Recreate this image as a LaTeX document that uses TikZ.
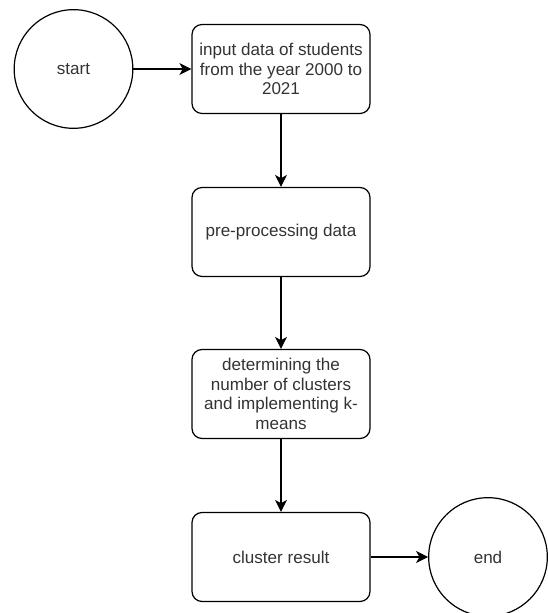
\documentclass[tikz,border=0pt]{standalone}
\usepackage{fontspec}
\setmainfont{Liberation Sans}
\usetikzlibrary{arrows.meta}

\begin{document}
\begin{tikzpicture}[
  x=0.75pt, y=0.75pt,
  step box/.style={draw, line width=0.9pt, rounded corners=7.5pt,
                minimum width=133.5pt, minimum height=66.75pt, inner sep=1pt,
                align=center, font=\fontsize{12.8}{14.6}\selectfont, text=black!80},
  term/.style ={draw, line width=0.9pt, circle, minimum size=89pt, inner sep=0pt,
                font=\fontsize{12.8}{14.6}\selectfont, text=black!80},
  flow/.style ={-{Stealth[length=9pt, width=9pt, inset=2.5pt]}, line width=0.9pt},
]
\useasboundingbox (0,0) rectangle (547,613);

% terminals
\node[term] (start)  at (73.5,544) {start};
\node[term] (finish) at (488,56)   {end};

% process column
\node[step box] (input)  at (281,544) {input data of students\\from the year 2000 to\\2021};
\node[step box] (prep)   at (281,381) {pre-processing data};
\node[step box] (kmeans) at (281,219) {determining the\\number of clusters\\and implementing k-\\means};
\node[step box] (result) at (281,56)  {cluster result};

\draw[flow] (start)  -- (input);
\draw[flow] (input)  -- (prep);
\draw[flow] (prep)   -- (kmeans);
\draw[flow] (kmeans) -- (result);
\draw[flow] (result) -- (finish);

\end{tikzpicture}
\end{document}
